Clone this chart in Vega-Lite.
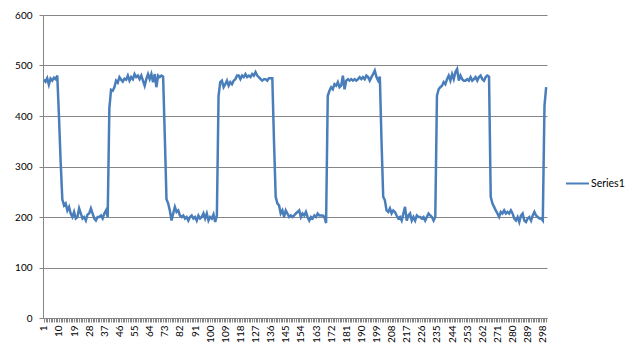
{
"$schema": "https://vega.github.io/schema/vega-lite/v6.json",
"width": 504, "height": 303,
"autosize": {"type": "none"},
"padding": {"left": 43, "top": 15, "right": 93, "bottom": 45},
"background": "white",
"config": {"view": {"stroke": null}, "font": "Lato"},
"data": {"values": [
{"x":1,"y":472},{"x":2,"y":468},{"x":3,"y":475},{"x":4,"y":462},{"x":5,"y":474},{"x":6,"y":470},{"x":7,"y":476},{"x":8,"y":473},{"x":9,"y":480},{"x":10,"y":400},
{"x":11,"y":310},{"x":12,"y":235},{"x":13,"y":223},{"x":14,"y":227},{"x":15,"y":213},{"x":16,"y":220},{"x":17,"y":207},{"x":18,"y":200},{"x":19,"y":210},{"x":20,"y":197},
{"x":21,"y":200},{"x":22,"y":217},{"x":23,"y":207},{"x":24,"y":197},{"x":25,"y":200},{"x":26,"y":193},{"x":27,"y":205},{"x":28,"y":207},{"x":29,"y":217},{"x":30,"y":207},
{"x":31,"y":197},{"x":32,"y":193},{"x":33,"y":200},{"x":34,"y":200},{"x":35,"y":203},{"x":36,"y":197},{"x":37,"y":207},{"x":38,"y":213},{"x":39,"y":200},{"x":40,"y":415},
{"x":41,"y":452},{"x":42,"y":450},{"x":43,"y":457},{"x":44,"y":470},{"x":45,"y":466},{"x":46,"y":477},{"x":47,"y":472},{"x":48,"y":468},{"x":49,"y":474},{"x":50,"y":472},
{"x":51,"y":480},{"x":52,"y":470},{"x":53,"y":477},{"x":54,"y":473},{"x":55,"y":483},{"x":56,"y":477},{"x":57,"y":480},{"x":58,"y":473},{"x":59,"y":480},{"x":60,"y":470},
{"x":61,"y":460},{"x":62,"y":473},{"x":63,"y":483},{"x":64,"y":473},{"x":65,"y":483},{"x":66,"y":467},{"x":67,"y":483},{"x":68,"y":457},{"x":69,"y":480},{"x":70,"y":477},
{"x":71,"y":480},{"x":72,"y":478},{"x":73,"y":360},{"x":74,"y":235},{"x":75,"y":227},{"x":76,"y":213},{"x":77,"y":193},{"x":78,"y":207},{"x":79,"y":220},{"x":80,"y":210},
{"x":81,"y":213},{"x":82,"y":203},{"x":83,"y":200},{"x":84,"y":203},{"x":85,"y":197},{"x":86,"y":200},{"x":87,"y":193},{"x":88,"y":200},{"x":89,"y":203},{"x":90,"y":197},
{"x":91,"y":200},{"x":92,"y":193},{"x":93,"y":203},{"x":94,"y":197},{"x":95,"y":200},{"x":96,"y":207},{"x":97,"y":197},{"x":98,"y":207},{"x":99,"y":193},{"x":100,"y":200},
{"x":101,"y":197},{"x":102,"y":205},{"x":103,"y":190},{"x":104,"y":203},{"x":105,"y":440},{"x":106,"y":467},{"x":107,"y":470},{"x":108,"y":457},{"x":109,"y":463},{"x":110,"y":470},
{"x":111,"y":460},{"x":112,"y":467},{"x":113,"y":463},{"x":114,"y":470},{"x":115,"y":473},{"x":116,"y":480},{"x":117,"y":480},{"x":118,"y":473},{"x":119,"y":480},{"x":120,"y":477},
{"x":121,"y":483},{"x":122,"y":477},{"x":123,"y":480},{"x":124,"y":477},{"x":125,"y":483},{"x":126,"y":480},{"x":127,"y":487},{"x":128,"y":480},{"x":129,"y":477},{"x":130,"y":473},
{"x":131,"y":470},{"x":132,"y":473},{"x":133,"y":473},{"x":134,"y":470},{"x":135,"y":475},{"x":136,"y":475},{"x":137,"y":475},{"x":138,"y":350},{"x":139,"y":240},{"x":140,"y":227},
{"x":141,"y":223},{"x":142,"y":207},{"x":143,"y":213},{"x":144,"y":200},{"x":145,"y":213},{"x":146,"y":207},{"x":147,"y":200},{"x":148,"y":203},{"x":149,"y":200},{"x":150,"y":203},
{"x":151,"y":207},{"x":152,"y":210},{"x":153,"y":213},{"x":154,"y":200},{"x":155,"y":207},{"x":156,"y":203},{"x":157,"y":210},{"x":158,"y":200},{"x":159,"y":193},{"x":160,"y":200},
{"x":161,"y":197},{"x":162,"y":203},{"x":163,"y":200},{"x":164,"y":207},{"x":165,"y":203},{"x":166,"y":203},{"x":167,"y":203},{"x":168,"y":200},{"x":169,"y":188},{"x":170,"y":440},
{"x":171,"y":450},{"x":172,"y":457},{"x":173,"y":453},{"x":174,"y":463},{"x":175,"y":460},{"x":176,"y":467},{"x":177,"y":457},{"x":178,"y":460},{"x":179,"y":480},{"x":180,"y":453},
{"x":181,"y":470},{"x":182,"y":473},{"x":183,"y":470},{"x":184,"y":473},{"x":185,"y":470},{"x":186,"y":473},{"x":187,"y":470},{"x":188,"y":473},{"x":189,"y":477},{"x":190,"y":473},
{"x":191,"y":477},{"x":192,"y":473},{"x":193,"y":480},{"x":194,"y":477},{"x":195,"y":470},{"x":196,"y":477},{"x":197,"y":483},{"x":198,"y":490},{"x":199,"y":477},{"x":200,"y":470},
{"x":201,"y":478},{"x":202,"y":350},{"x":203,"y":240},{"x":204,"y":233},{"x":205,"y":213},{"x":206,"y":210},{"x":207,"y":217},{"x":208,"y":207},{"x":209,"y":213},{"x":210,"y":210},
{"x":211,"y":203},{"x":212,"y":197},{"x":213,"y":200},{"x":214,"y":193},{"x":215,"y":207},{"x":216,"y":220},{"x":217,"y":193},{"x":218,"y":203},{"x":219,"y":207},{"x":220,"y":193},
{"x":221,"y":200},{"x":222,"y":193},{"x":223,"y":203},{"x":224,"y":200},{"x":225,"y":200},{"x":226,"y":197},{"x":227,"y":200},{"x":228,"y":193},{"x":229,"y":200},{"x":230,"y":207},
{"x":231,"y":203},{"x":232,"y":200},{"x":233,"y":193},{"x":234,"y":200},{"x":235,"y":440},{"x":236,"y":453},{"x":237,"y":457},{"x":238,"y":460},{"x":239,"y":467},{"x":240,"y":463},
{"x":241,"y":473},{"x":242,"y":480},{"x":243,"y":470},{"x":244,"y":483},{"x":245,"y":473},{"x":246,"y":487},{"x":247,"y":493},{"x":248,"y":470},{"x":249,"y":480},{"x":250,"y":473},
{"x":251,"y":470},{"x":252,"y":470},{"x":253,"y":473},{"x":254,"y":470},{"x":255,"y":477},{"x":256,"y":470},{"x":257,"y":473},{"x":258,"y":477},{"x":259,"y":470},{"x":260,"y":477},
{"x":261,"y":480},{"x":262,"y":473},{"x":263,"y":470},{"x":264,"y":477},{"x":265,"y":480},{"x":266,"y":478},{"x":267,"y":240},{"x":268,"y":227},{"x":269,"y":220},{"x":270,"y":213},
{"x":271,"y":207},{"x":272,"y":200},{"x":273,"y":210},{"x":274,"y":207},{"x":275,"y":213},{"x":276,"y":207},{"x":277,"y":210},{"x":278,"y":207},{"x":279,"y":213},{"x":280,"y":207},
{"x":281,"y":197},{"x":282,"y":193},{"x":283,"y":200},{"x":284,"y":190},{"x":285,"y":203},{"x":286,"y":207},{"x":287,"y":193},{"x":288,"y":190},{"x":289,"y":197},{"x":290,"y":200},
{"x":291,"y":193},{"x":292,"y":203},{"x":293,"y":210},{"x":294,"y":203},{"x":295,"y":200},{"x":296,"y":197},{"x":297,"y":197},{"x":298,"y":193},{"x":299,"y":420},{"x":300,"y":457}
]},
"transform": [{"calculate": "'Series1'", "as": "s"}],
"mark": {"type": "line", "strokeWidth": 2.5, "interpolate": "linear"},
"encoding": {
"x": {"field": "x", "type": "ordinal",
 "scale": {"type": "point", "padding": 0.5},
 "axis": {"title": null, "labelAngle": -90, "labelExpr": "(datum.value - 1) % 9 == 0 ? datum.label : ''",
  "labelFontSize": 10, "labelColor": "#000000", "labelOverlap": false, "labelBound": false, "labelFlush": false,
  "labelPadding": 3, "tickColor": "#868686", "tickSize": 4, "domainColor": "#868686", "grid": false}},
"y": {"field": "y", "type": "quantitative",
 "scale": {"domain": [0, 600], "nice": false},
 "axis": {"title": null, "values": [0,100,200,300,400,500,600], "grid": true, "gridColor": "#868686",
  "domainColor": "#868686", "tickColor": "#868686", "tickSize": 4, "labelFontSize": 10, "labelColor": "#000000", "labelPadding": 7}},
"color": {"field": "s", "type": "nominal", "scale": {"range": ["#4A7EBB"]},
 "legend": {"title": null, "orient": "none", "legendX": 522, "legendY": 156, "padding": 0,
  "symbolType": "stroke", "symbolStrokeWidth": 2, "symbolSize": 529, "labelFontSize": 10.5, "labelColor": "#000000", "labelOffset": 1}}
}
}
